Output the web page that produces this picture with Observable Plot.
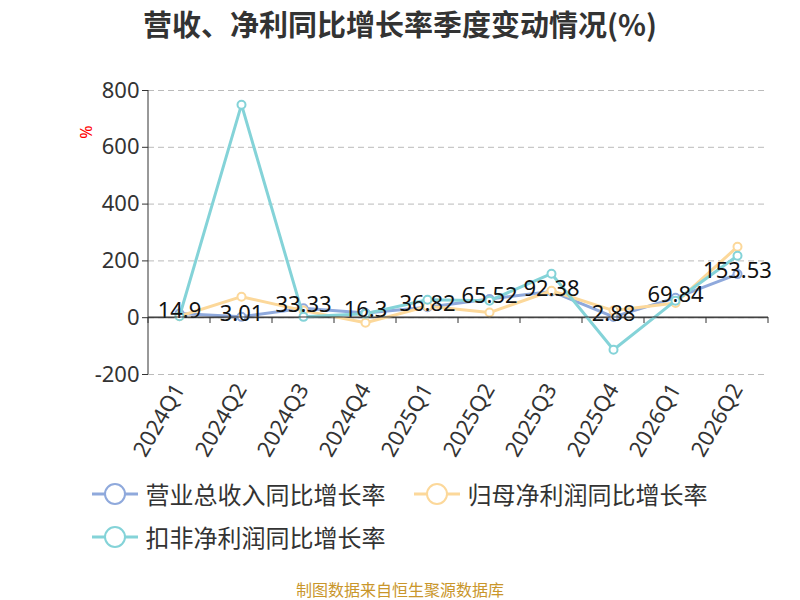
<!DOCTYPE html><html><head><meta charset="utf-8">
<script src="https://cdn.jsdelivr.net/npm/d3@7"></script>
<script src="https://cdn.jsdelivr.net/npm/@observablehq/plot@0.6"></script>
<style>body{margin:0;width:800px;height:600px;font-family:"Noto Sans CJK SC","Noto Sans",sans-serif;background:#fff;position:relative;overflow:hidden}
#t{position:absolute;top:2px;width:800px;text-align:center;font-size:29px;font-weight:bold;color:#333}
#c{position:absolute;top:60px;left:0}
.lg{position:absolute;font-size:24px;color:#333;display:flex;align-items:center}
.cap{position:absolute;top:577px;width:800px;text-align:center;font-size:16px;color:#c9962b}
</style></head><body>
<div id="t">营收、净利同比增长率季度变动情况(%)</div>
<div id="c"></div>
<div class="lg" style="left:90px;top:476px"><svg width="50" height="30"><line x1="2" y1="15" x2="48" y2="15" stroke="#8fa9dc" stroke-width="3"/><circle cx="25" cy="15" r="10" fill="#fff" stroke="#8fa9dc" stroke-width="2"/></svg>&nbsp;营业总收入同比增长率</div>
<div class="lg" style="left:412px;top:476px"><svg width="50" height="30"><line x1="2" y1="15" x2="48" y2="15" stroke="#fcd89a" stroke-width="3"/><circle cx="25" cy="15" r="10" fill="#fff" stroke="#fcd89a" stroke-width="2"/></svg>&nbsp;归母净利润同比增长率</div>
<div class="lg" style="left:90px;top:519px"><svg width="50" height="30"><line x1="2" y1="15" x2="48" y2="15" stroke="#84d3d8" stroke-width="3"/><circle cx="25" cy="15" r="10" fill="#fff" stroke="#84d3d8" stroke-width="2"/></svg>&nbsp;扣非净利润同比增长率</div>
<div class="cap">制图数据来自恒生聚源数据库</div>
<script>
const quarters=["2024Q1","2024Q2","2024Q3","2024Q4","2025Q1","2025Q2","2025Q3","2025Q4","2026Q1","2026Q2"];
const revenue=[14.9,3.01,33.33,16.3,36.82,65.52,92.38,2.88,69.84,153.53];
const netProfit=[5,74,25,-18,40,18,95,25,52,250];
const deducted=[5,750,3,14,63,60,155,-113,60,218];
const yTicks=[-200,0,200,400,600,800];
const series=[["营业总收入同比增长率",revenue,"#8fa9dc"],["归母净利润同比增长率",netProfit,"#fcd89a"],["扣非净利润同比增长率",deducted,"#84d3d8"]];
const data=series.flatMap(([n,v,c])=>quarters.map((q,i)=>({s:n,q,v:v[i],c})));
const lab=quarters.map((q,i)=>({q,v:revenue[i]}));
const marks=[
 Plot.gridY(yTicks,{stroke:"#bbb",strokeDasharray:"6,4",strokeOpacity:1}),
 Plot.ruleY([0],{stroke:"#333"}),
 Plot.axisY(yTicks,{fontSize:22,tickSize:6,label:null,tickFormat:d=>d}),
 Plot.axisX({fontSize:22,tickRotate:-60,tickSize:0,label:null}),
];
for(const [n,v,c] of series){
 const d=data.filter(x=>x.s===n);
 marks.push(Plot.line(d,{x:"q",y:"v",stroke:c,strokeWidth:3}));
 marks.push(Plot.dot(d,{x:"q",y:"v",stroke:c,fill:"#fff",r:4,strokeWidth:2}));
}
marks.push(Plot.text(lab,{x:"q",y:"v",text:d=>String(d.v),fontSize:22,fill:"#111",dy:-3}));
const p=Plot.plot({width:800,height:410,marginLeft:148,marginRight:32,marginTop:30,marginBottom:96,
 x:{type:"point",domain:quarters,padding:0.5},y:{domain:[-200,800]},style:{fontFamily:"Noto Sans",color:"#333"},marks});
d3.select(p).append("line").attr("x1",148).attr("x2",148).attr("y1",30).attr("y2",314).attr("stroke","#333");
d3.select(p).append("line").attr("x1",148).attr("x2",768).attr("y1",257).attr("y2",257).attr("stroke","#333");
for(let i=0;i<=10;i++){const x=148+62*i;d3.select(p).append("line").attr("x1",x).attr("x2",x).attr("y1",257).attr("y2",263).attr("stroke","#333");}
d3.select(p).append("text").attr("transform","translate(92,72) rotate(-90)").attr("fill","red").attr("font-size",16).attr("text-anchor","middle").text("%");
document.getElementById("c").appendChild(p);
</script></body></html>
